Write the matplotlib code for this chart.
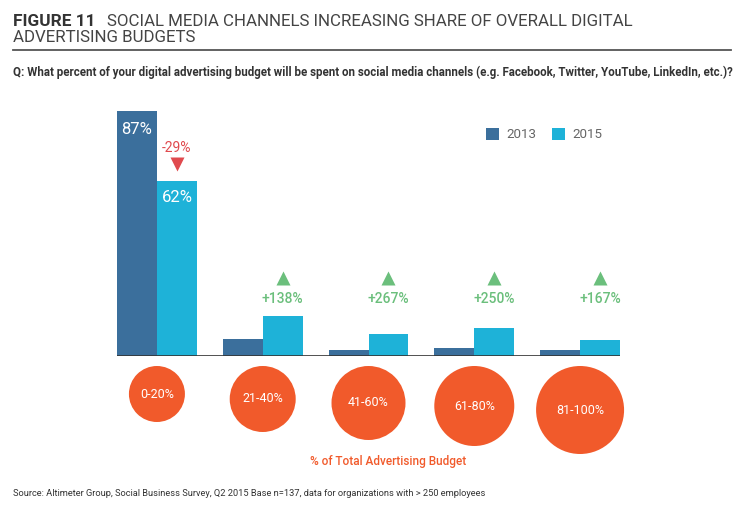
import matplotlib

matplotlib.use("Agg")
import matplotlib.pyplot as plt
from matplotlib.patches import Circle
import numpy as np

# data
groups = ["0-20%", "21-40%", "41-60%", "61-80%", "81-100%"]
share_2013 = [87, 6.0, 2.0, 2.8, 2.0]
share_2015 = [62, 14.2, 7.7, 9.9, 5.6]
change_labels = ["-29%", "+138%", "+267%", "+250%", "+167%"]
years = ["2013", "2015"]

C13 = "#3b6f9c"
C15 = "#1eb2d8"
RED = "#e04a4e"
GREEN = "#6bbf7c"
ORANGE = "#f15a2b"
W, H = 743, 514

plt.rcParams["font.family"] = ["Roboto", "DejaVu Sans"]

fig = plt.figure(figsize=(W / 100, H / 100), dpi=100)


def px_axes(left, top, width, height):
    return fig.add_axes([left / W, 1 - (top + height) / H, width / W, height / H])


# bars: baseline at y=356px, 2.816 px per percent, 106 px per group
bar_w = 40 / 106
AX_L, AX_W, BASE = 117, 503, 356
ax = px_axes(AX_L, BASE - 281.6, AX_W, 281.6)
x = np.arange(len(groups))
ax.bar(x - bar_w / 2, share_2013, bar_w, color=C13, label=years[0])
ax.bar(x + bar_w / 2, share_2015, bar_w, color=C15, label=years[1])
ax.set_xlim(-bar_w, len(groups) - 1 + bar_w)
ax.set_ylim(0, 100)
ax.axis("off")
ax.axhline(0, color="#333333", lw=1.2)

# value labels inside the first group
ax.text(x[0] - bar_w / 2, share_2013[0] - 6.5, f"{share_2013[0]}%", color="white",
        ha="center", va="center", fontsize=12)
ax.text(x[0] + bar_w / 2, share_2015[0] - 5.7, f"{share_2015[0]}%", color="white",
        ha="center", va="center", fontsize=12)

# change markers
for i, lab in enumerate(change_labels):
    cx = x[i] + bar_w / 2
    if lab.startswith("-"):
        ax.text(cx, 73.8, lab, color=RED, ha="center", va="center", fontsize=10)
        ax.plot(cx, 68.2, marker="v", color=RED, markersize=10, mec="none")
    else:
        ax.text(cx, 20.2, lab, color=GREEN, ha="center", va="center", fontsize=10,
                fontweight="medium")
        ax.plot(cx, 27.8, marker="^", color=GREEN, markersize=10, mec="none")

# legend
leg = ax.legend(loc="center left", bbox_to_anchor=((486 - AX_L) / AX_W, (BASE - 134.5) / 281.6),
                ncol=2, frameon=False, borderaxespad=0, borderpad=0,
                handlelength=0.98, handleheight=0.98, handletextpad=0.53, columnspacing=1.2,
                fontsize=9.6)
for t in leg.get_texts():
    t.set_color("#666666")

# overlay in pixel coordinates for circles and page text
ov = fig.add_axes([0, 0, 1, 1], zorder=-1)
ov.set_xlim(0, W)
ov.set_ylim(H, 0)
ov.axis("off")

circ_r = [28, 33, 37, 40, 44]
px_per_unit = AX_W / (len(groups) - 1 + 2 * bar_w)
for i, (g, r) in enumerate(zip(groups, circ_r)):
    cx = AX_L + (x[i] + bar_w) * px_per_unit
    cy = 366 + r
    ov.add_patch(Circle((cx, cy), r, color=ORANGE, lw=0))
    ov.text(cx, cy, g, color="white", ha="center", va="center", fontsize=9)

ov.text(388.5, 462, "% of Total Advertising Budget", color=ORANGE, ha="center",
        va="center", fontsize=8.5, fontweight="medium")

# header
fig_lbl = ov.text(13, 21, "FIGURE 11", fontsize=12.4, fontweight="bold",
                  color="#333333", va="center")
ov.annotate("SOCIAL MEDIA CHANNELS INCREASING SHARE OF OVERALL DIGITAL",
            xy=(1, 0.5), xycoords=fig_lbl, xytext=(8, 0), textcoords="offset points",
            fontsize=12.2, color="#444444", va="center")
ov.text(13, 37, "ADVERTISING BUDGETS", fontsize=12.2, color="#444444", va="center")
ov.plot([13, 731], [50, 50], color="#555555", lw=1.3)
ov.text(13, 72, "Q: What percent of your digital advertising budget will be spent on social "
        "media channels (e.g. Facebook, Twitter, YouTube, LinkedIn, etc.)?",
        fontsize=8.3, fontweight="bold", color="#333333", va="center")
ov.text(13, 493, "Source: Altimeter Group, Social Business Survey, Q2 2015 Base n=137, "
        "data for organizations with > 250 employees", fontsize=6.7, color="#333333",
        va="center")

fig.savefig("out.png", dpi=100)
